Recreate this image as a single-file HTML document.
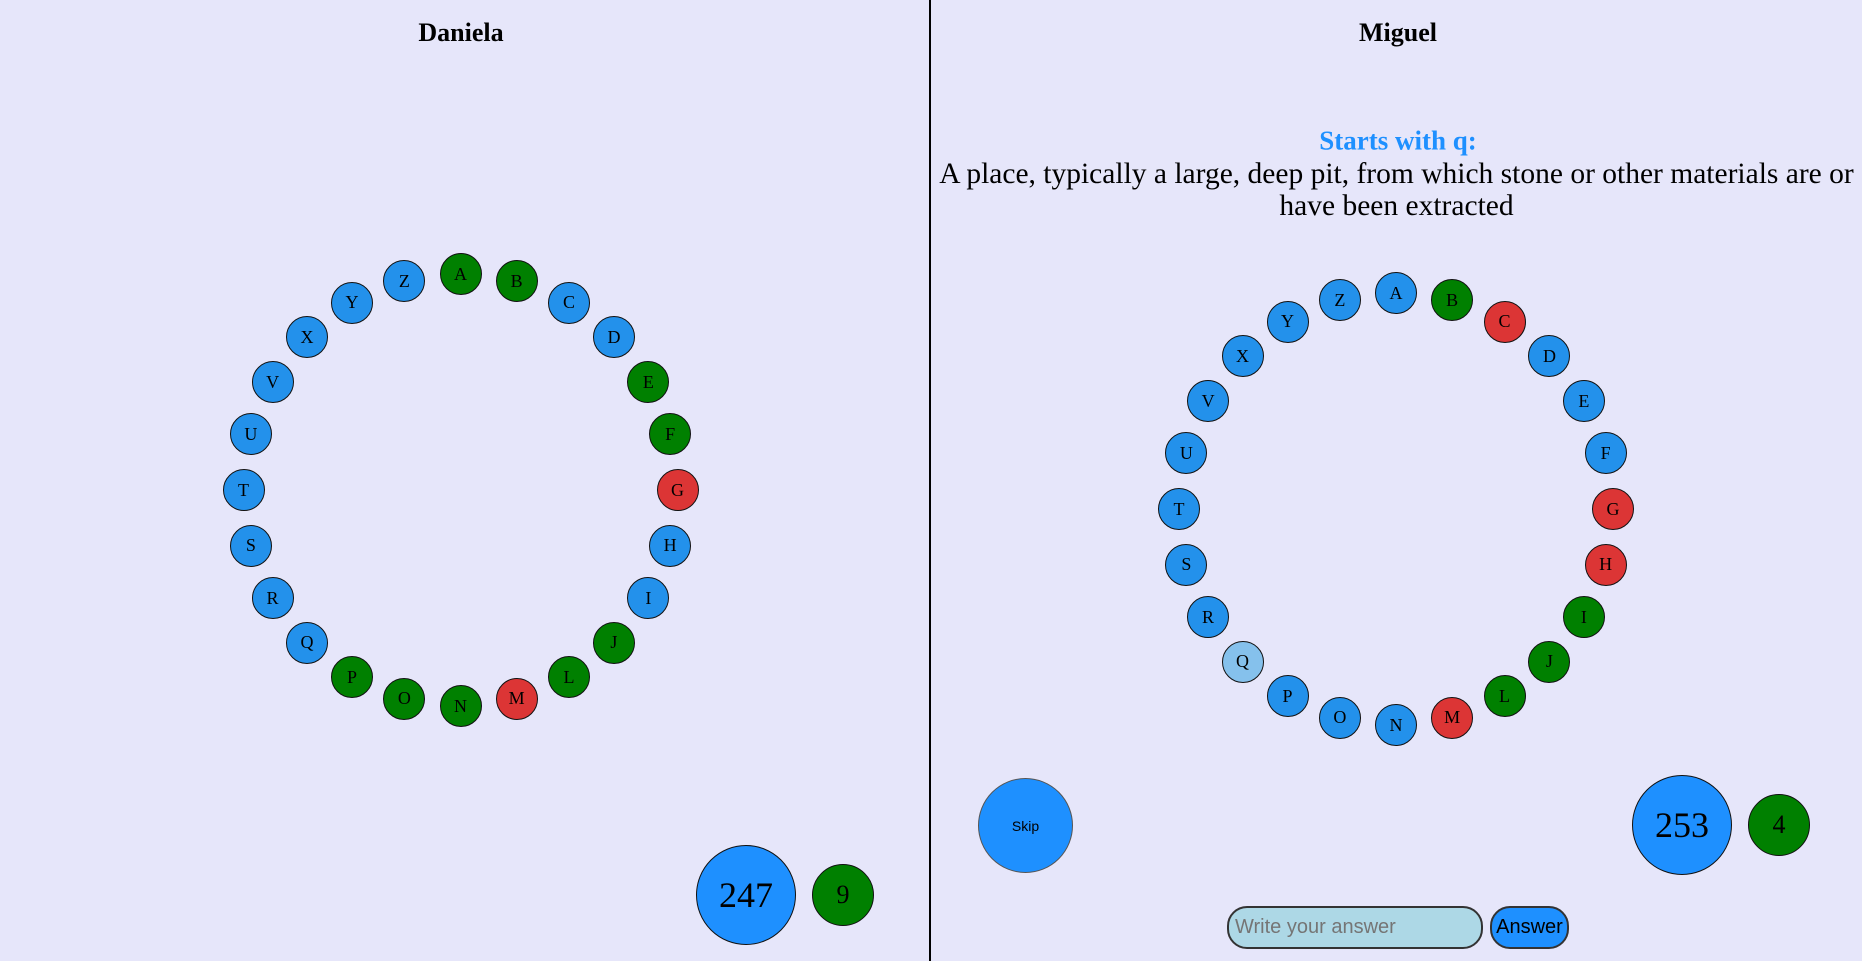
<!DOCTYPE html>
<html><head><meta charset="utf-8">
<style>
body{margin:0;width:1862px;height:961px;background:#e6e6fa;position:relative;overflow:hidden;font-family:"Liberation Serif",serif;}
.t{position:absolute;transform:translate(-50%,-50%);white-space:nowrap;}
.c{position:absolute;border-radius:50%;border:1.5px solid #111;box-sizing:border-box;display:flex;align-items:center;justify-content:center;font-size:18px;color:#000;}
</style></head><body>
<div style="position:absolute;left:929px;top:0;width:2px;height:961px;background:#000"></div>
<div class="t" style="left:461px;top:33px;font-size:26px;font-weight:bold">Daniela</div>
<div class="t" style="left:1398px;top:33px;font-size:26px;font-weight:bold">Miguel</div>
<div class="t" style="left:1398px;top:141px;font-size:27px;font-weight:bold;color:#1e90ff">Starts with q:</div>
<div style="position:absolute;left:931px;width:931px;top:158px;text-align:center;font-size:29.5px;line-height:32px">A place, typically a large, deep pit, from which stone or other materials are or have been extracted</div>

<div class="c" style="left:696px;top:845px;width:100px;height:100px;background:#1e90ff;font-size:36px">247</div>
<div class="c" style="left:812px;top:864px;width:62px;height:62px;background:#008000;font-size:26px">9</div>
<div class="c" style="left:978px;top:778px;width:95px;height:95px;background:#1e90ff;border-color:#555;font-family:'Liberation Sans',sans-serif;font-size:14px">Skip</div>
<div class="c" style="left:1632px;top:775px;width:100px;height:100px;background:#1e90ff;font-size:36px">253</div>
<div class="c" style="left:1748px;top:794px;width:62px;height:62px;background:#008000;font-size:26px">4</div>
<input placeholder="Write your answer" style="position:absolute;left:1227px;top:906px;width:256px;height:43px;box-sizing:border-box;border:2px solid #333;border-radius:20px;background:#add8e6;font-family:'Liberation Sans',sans-serif;font-size:20px;padding:0 6px;color:#000">
<div style="position:absolute;left:1490px;top:906px;width:79px;height:43px;box-sizing:border-box;border:2px solid #333;border-radius:20px;background:#1e90ff;font-family:'Liberation Sans',sans-serif;font-size:20px;display:flex;align-items:center;justify-content:center">Answer</div>

<script>
const letters=["A","B","C","D","E","F","G","H","I","J","L","M","N","O","P","Q","R","S","T","U","V","X","Y","Z"];
const statusDaniela=["g","g","b","b","g","g","r","b","b","g","g","r","g","g","g","b","b","b","b","b","b","b","b","b"];
const statusMiguel=["b","g","r","b","b","b","r","r","g","g","g","r","b","b","b","q","b","b","b","b","b","b","b","b"];
const colors={b:"#2391eb",g:"#008000",r:"#dc3535",q:"#85c1ec"};
function ring(cx,cy,rx,ry,status,who){
  letters.forEach((L,i)=>{
    const a=i*2*Math.PI/letters.length;
    const x=cx+rx*Math.sin(a), y=cy-ry*Math.cos(a);
    const d=document.createElement('div');
    d.className='c';
    
    
    d.style.cssText=`left:${x-21}px;top:${y-21}px;width:42px;height:42px;background:${colors[status[i]]}`;
    d.textContent=L;
    document.body.appendChild(d);
  });
}
ring(460.5,490,217,216,statusDaniela,'daniela');
ring(1396,509,217,216,statusMiguel,'miguel');
</script>
</body></html>
